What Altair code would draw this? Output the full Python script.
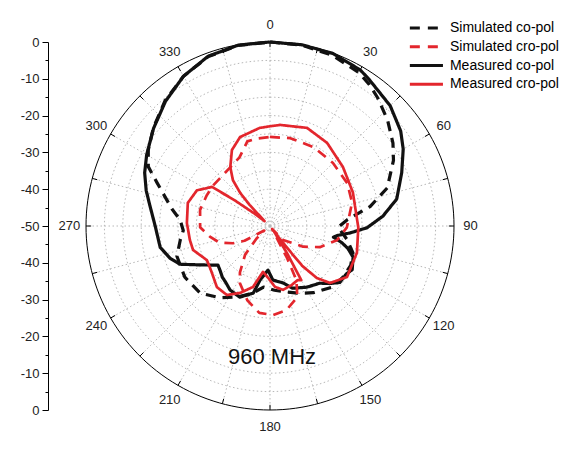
import altair as alt
import pandas as pd

# ---------------- data (angle in degrees, level in dB) ----------------
series_names = ["Simulated co-pol", "Simulated cro-pol", "Measured co-pol", "Measured cro-pol"]

sim_co_angle = [0, 10, 20, 30, 35, 40, 48, 56, 62, 72, 79, 85.5, 91, 100, 108, 116, 125, 134, 147, 156,
                166, 176, 186, 195, 205, 215, 226, 239, 252, 261, 267, 274, 280, 291, 296, 302, 310, 320,
                330, 340, 350, 360]
sim_co_db = [0, -0.1, -0.6, -1.8, -3, -4.5, -7, -9.7, -12, -16.5, -22.3, -29, -31.5, -28.7, -26.3, -25.6,
             -25.8, -26.2, -28.4, -30, -31.5, -32.5, -33.3, -31, -28.7, -26.2, -23.7, -23, -23.4, -25.3,
             -26.4, -25.5, -22.9, -17.1, -13.2, -11, -8.6, -5.6, -3, -1, -0.2, 0]

meas_co_angle = [0, 10, 20, 30, 34, 45, 54, 60, 68, 78, 85, 91, 95, 98, 100, 103, 106, 110.5, 118, 122,
                 129, 134, 139, 149, 160, 167, 177, 182.6, 190.5, 194, 203, 212, 218, 223, 228, 233, 241,
                 247, 252, 259, 270, 280, 286, 293, 300, 310, 320, 330, 340, 350, 360]
meas_co_db = [0, 0, -0.1, -1.0, -1.9, -3.8, -6.1, -8.2, -11.4, -14.8, -19.2, -23.6, -28.2, -31.5, -32.5,
              -30, -28, -25.9, -24.7, -25.5, -25.6, -27.5, -29.4, -30.6, -32, -34.1, -35.3, -38, -35,
              -31.2, -29, -29.5, -30.5, -31, -31.8, -32.3, -28.2, -23.4, -21.5, -19.6, -18.8, -16.8,
              -15, -13, -11.3, -8.7, -5.8, -3, -0.9, -0.1, 0]

sim_cro_angle = [0, 13, 29, 45, 61, 74, 91, 102, 113, 122, 137, 145, 152, 154, 159, 169, 178, 187, 197,
                 208, 213, 221, 227, 232, 240, 245, 252, 260, 269, 283, 296, 305, 314, 325, 336, 345, 351, 360]
sim_cro_db = [-25.8, -25.5, -25.5, -25.8, -26, -26.8, -29.1, -31.4, -35.3, -39.4, -44.8, -49, -40, -33.6,
              -29.3, -26.7, -25.8, -26.2, -28.9, -32.5, -35, -39.7, -45, -48, -42, -38.9, -35.5, -33.4,
              -31, -30.5, -30.9, -31, -31.2, -30.8, -29.6, -26.2, -26, -25.8]

meas_cro_angle = [0, 5.7, 20.7, 34.5, 51, 68, 91, 107, 123.5, 133.5, 138, 141, 141.5, 144, 148, 150, 153,
                  160, 168.5, 175.3, 182, 188.7, 195.6, 204, 212, 221, 231, 236, 241.6, 252.7, 260, 272,
                  285.7, 296, 304, 306, 309, 312, 316, 318, 321, 326, 333.4, 341.4, 354, 360]
meas_cro_db = [-22.9, -22.4, -21.5, -22.6, -24.5, -25.7, -26, -25.3, -24.9, -27.5, -31, -36, -40, -48, -41,
               -33, -33.5, -32.9, -32.3, -33.4, -35.9, -37.4, -32.8, -30.1, -27.9, -28, -29.7, -30.2, -30.5,
               -28.1, -27.9, -27.4, -26.8, -27.9, -31, -38, -45, -48, -42, -37.9, -34, -30.7, -26.9,
               -24.5, -23.2, -22.9]

angle_labels = [0, 30, 60, 90, 120, 150, 180, 210, 240, 270, 300, 330]
tick_angles = list(range(0, 360, 15))
grid_levels = [-45, -40, -35, -30, -25, -20, -15, -10, -5]
radial_ticks = list(range(-50, 51, 5))
annotation = "960 MHz"

# ---------------- styles ----------------
RED = "#e3262d"
BLACK = "#111111"
FONT = "Liberation Sans"
W, H = 517, 368
PX = H / 100.0
X0 = -222 / PX
X1 = X0 + W / PX

xs = alt.Scale(domain=[X0, X1], nice=False, zero=False)
ys = alt.Scale(domain=[-50, 50], nice=False, zero=False)

yaxis = alt.Axis(
    values=radial_ticks,
    labelExpr="abs(datum.value) == 50 ? '0' : (datum.value % 10 === 0 ? '-' + (50 - abs(datum.value)) : '')",
    tickSize={"condition": {"test": "datum.value % 10 === 0", "value": 6}, "value": 3},
    domainColor="#000", tickColor="#000", domainWidth=1, tickWidth=1,
    labelFont=FONT, labelFontSize=13, labelColor="#222", labelPadding=3,
    grid=False, title=None,
)
X = alt.X("x:Q", scale=xs, axis=None)
Y = alt.Y("y:Q", scale=ys, axis=yaxis)

polar_x = "(datum.r) * sin(datum.a * PI / 180)"
polar_y = "(datum.r) * cos(datum.a * PI / 180)"

# grid circles (structural)
grid_rows = []
for lv in grid_levels:
    for k in range(0, 181):
        grid_rows.append({"lv": lv, "a": k * 2})
grid_df = pd.DataFrame(grid_rows)
grid = alt.Chart(grid_df).transform_calculate(
    r="datum.lv + 50").transform_calculate(x=polar_x, y=polar_y).mark_line(
    color="#b8b8b8", strokeWidth=1, strokeDash=[1.5, 2.5]).encode(
    x=X, y=Y, detail="lv:N", order="a:Q")

outer_df = pd.DataFrame({"a": [k * 2 for k in range(0, 181)]})
outer = alt.Chart(outer_df).transform_calculate(r="50").transform_calculate(
    x=polar_x, y=polar_y).mark_line(color="#000", strokeWidth=1).encode(x=X, y=Y, order="a:Q")

spoke_df = pd.DataFrame({"a": tick_angles})
spokes = alt.Chart(spoke_df).transform_calculate(
    x="0", y="0", x2="50 * sin(datum.a * PI / 180)", y2="50 * cos(datum.a * PI / 180)").mark_rule(
    color="#b8b8b8", strokeWidth=1, strokeDash=[1.5, 2.5]).encode(
    x=X, y=Y, x2="x2:Q", y2="y2:Q")

ticks = alt.Chart(spoke_df).transform_calculate(
    x="48.6 * sin(datum.a * PI / 180)", y="48.6 * cos(datum.a * PI / 180)",
    x2="50 * sin(datum.a * PI / 180)", y2="50 * cos(datum.a * PI / 180)").mark_rule(
    color="#000", strokeWidth=1).encode(x=X, y=Y, x2="x2:Q", y2="y2:Q")

lab_df = pd.DataFrame({"a": angle_labels, "t": [str(v) for v in angle_labels]})
labels = alt.Chart(lab_df).transform_calculate(r="54.5").transform_calculate(
    x=polar_x, y=polar_y).mark_text(
    font=FONT, fontSize=13, color="#222", align="center", baseline="middle").encode(
    x=X, y=Y, text="t:N")

# curves
curve_specs = [
    (sim_co_angle, sim_co_db, BLACK, [10, 7], 3.2),
    (meas_co_angle, meas_co_db, BLACK, [1, 0], 3.2),
    (sim_cro_angle, sim_cro_db, RED, [10, 7], 2.7),
    (meas_cro_angle, meas_cro_db, RED, [1, 0], 2.7),
]
curves = []
for ang, db, col, dash, sw in curve_specs:
    df = pd.DataFrame({"a": ang, "db": db, "i": list(range(len(ang)))})
    curves.append(
        alt.Chart(df).transform_calculate(r="datum.db + 50").transform_calculate(
            x=polar_x, y=polar_y).mark_line(
            color=col, strokeWidth=sw, strokeDash=dash, strokeCap="butt", strokeJoin="round").encode(
            x=X, y=Y, order="i:Q"))

# legend (manual)
leg_df = pd.DataFrame({"name": series_names, "row": [0, 1, 2, 3]})
dash_scale = alt.Scale(domain=series_names, range=[[10, 8], [10, 8], [1, 0], [1, 0]])
col_scale = alt.Scale(domain=series_names, range=[BLACK, RED, BLACK, RED])
leg_lines = alt.Chart(leg_df).transform_calculate(
    x="38.0", x2="47.0", y="53.8 - datum.row * 5.1").mark_rule(strokeWidth=3).encode(
    x=X, x2="x2:Q", y=Y,
    color=alt.Color("name:N", scale=col_scale, legend=None),
    strokeDash=alt.StrokeDash("name:N", scale=dash_scale, legend=None))
leg_text = alt.Chart(leg_df).transform_calculate(
    x="48.9", y="53.8 - datum.row * 5.1").mark_text(
    font=FONT, fontSize=14, color="#000", align="left", baseline="middle").encode(
    x=X, y=Y, text="name:N")

title_df = pd.DataFrame({"t": [annotation]})
freq = alt.Chart(title_df).mark_text(
    font=FONT, fontSize=22, color="#111", align="center", baseline="middle").encode(
    x=alt.value(224), y=alt.value(315), text="t:N")

chart = alt.layer(grid, spokes, outer, ticks, labels, *curves, leg_lines, leg_text, freq).properties(
    width=W, height=H,
    autosize=alt.AutoSizeParams(type="none"),
    padding={"left": 40, "top": 34, "right": 0, "bottom": 32},
    background="white",
).configure_view(stroke=None)

chart.save("out.html", embed_options={"renderer": "svg", "actions": False})
